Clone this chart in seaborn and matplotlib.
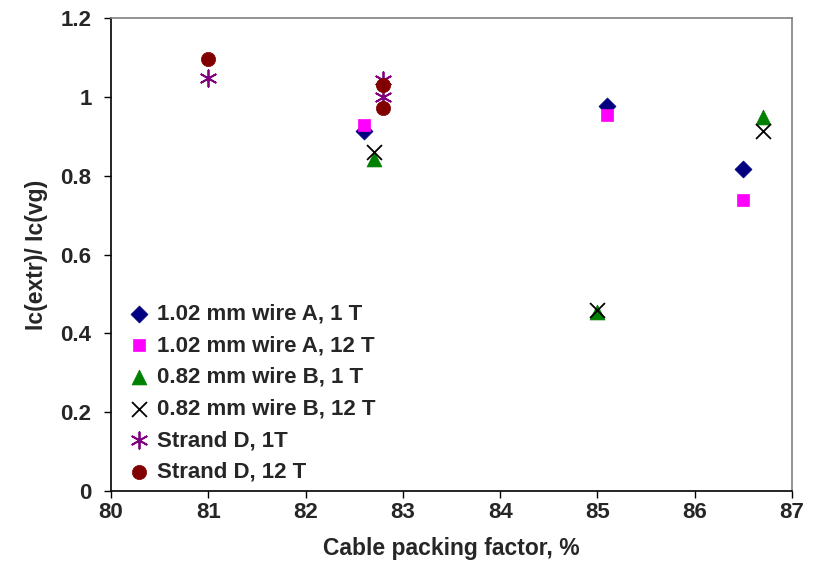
import matplotlib
matplotlib.use("Agg")
import matplotlib.pyplot as plt
from matplotlib.ticker import FuncFormatter
import seaborn as sns
import pandas as pd

# --- data ---
a1_x = [82.6, 85.1, 86.5]
a1_y = [0.914, 0.978, 0.816]
a12_x = [82.6, 85.1, 86.5]
a12_y = [0.928, 0.953, 0.738]
b1_x = [82.7, 85.0, 86.7]
b1_y = [0.843, 0.455, 0.950]
b12_x = [82.7, 85.0, 86.7]
b12_y = [0.860, 0.459, 0.914]
d1_x = [81.0, 82.8, 82.8]
d1_y = [1.048, 1.042, 1.000]
d12_x = [81.0, 82.8, 82.8]
d12_y = [1.095, 1.030, 0.971]

labels = ["1.02 mm wire A, 1 T", "1.02 mm wire A, 12 T",
          "0.82 mm wire B, 1 T", "0.82 mm wire B, 12 T",
          "Strand D, 1T", "Strand D, 12 T"]

series = [
    (a1_x, a1_y, "D", "#000080", 75, True),
    (a12_x, a12_y, "s", "#FF00FF", 64, True),
    (b1_x, b1_y, "^", "#008000", 115, True),
    (b12_x, b12_y, "x", "#000000", 115, False),
    (d1_x, d1_y, (6, 2, 0), "#800080", 140, False),
    (d12_x, d12_y, "o", "#800000", 105, True),
]

sns.set_style("white")
plt.rcParams["font.family"] = ["Liberation Sans", "DejaVu Sans"]

fig = plt.figure(figsize=(8.17, 5.7), dpi=100)
ax = fig.add_axes([0.1359, 0.1386, 0.8335, 0.8298])

for (xs, ys, mk, col, size, filled), lab in zip(series, labels):
    df = pd.DataFrame({"x": xs, "y": ys})
    if filled:
        sns.scatterplot(data=df, x="x", y="y", marker=mk, color=col, s=size,
                        edgecolor=col, linewidth=0.5, label=lab, ax=ax, zorder=3)
    else:
        sns.scatterplot(data=df, x="x", y="y", marker=mk, color=col, s=size,
                        linewidth=1.3, label=lab, ax=ax, zorder=3)

ax.set_xlim(80, 87)
ax.set_ylim(0, 1.2)
ax.set_xticks(range(80, 88))
ax.set_yticks([0, 0.2, 0.4, 0.6, 0.8, 1.0, 1.2])
ax.yaxis.set_major_formatter(FuncFormatter(lambda v, p: "%g" % v))

for lab in ax.get_xticklabels() + ax.get_yticklabels():
    lab.set_fontsize(16)
    lab.set_fontweight("bold")

ax.tick_params(axis="both", direction="out", length=5, width=1, color="black",
               bottom=True, left=True)
ax.tick_params(axis="x", pad=3)
ax.tick_params(axis="y", pad=9)

ax.set_xlabel("Cable packing factor, %", fontsize=16.5, fontweight="bold", labelpad=10)
ax.set_ylabel("Ic(extr)/ Ic(vg)", fontsize=16.5, fontweight="bold", labelpad=9)

for side in ["left", "bottom"]:
    ax.spines[side].set_color("black")
    ax.spines[side].set_linewidth(1.2)
for side in ["top", "right"]:
    ax.spines[side].set_visible(True)
    ax.spines[side].set_color("#808080")
    ax.spines[side].set_linewidth(1.2)

leg = ax.legend(loc="lower left", bbox_to_anchor=(0.01, -0.004), frameon=False,
                prop={"size": 16, "weight": "bold"}, handlelength=1.0,
                handletextpad=0.3, labelspacing=0.48, borderaxespad=0.05,
                scatterpoints=1)

fig.savefig("out.png", dpi=100)
